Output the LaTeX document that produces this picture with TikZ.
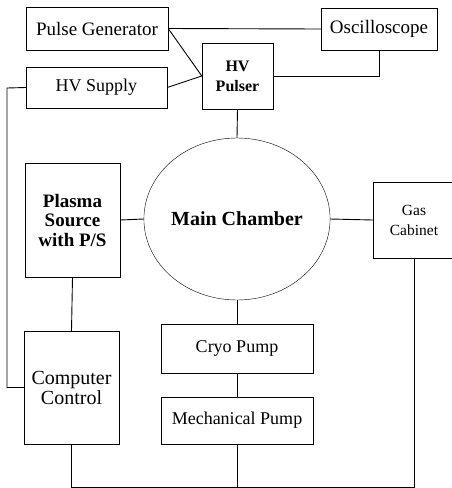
\documentclass[tikz,border=0pt]{standalone}
\usepackage{fontspec}
\setmainfont{Liberation Serif}
\usetikzlibrary{shapes.geometric}

\begin{document}
\begin{tikzpicture}[
    x=1pt, y=-1pt,
    block/.style={rectangle, draw, align=center, inner sep=0pt, font=\fontsize{18}{20}\selectfont},
    chamber/.style={ellipse, draw, inner sep=0pt, font=\fontsize{20}{20}\selectfont\bfseries},
    line/.style={draw, line width=0.9pt}
]
\useasboundingbox (0,0) rectangle (452,488);

\node [block, minimum width=142pt, minimum height=43pt, font=\fontsize{19}{20}\selectfont] (pulsegen) at (97,28.5) {Pulse Generator};
\node [block, minimum width=116pt, minimum height=42pt, font=\fontsize{19}{20}\selectfont] (osc) at (379,29) {Oscilloscope};
\node [block, minimum width=71pt, minimum height=66pt, font=\fontsize{16}{20}\selectfont\bfseries] (pulser) at (237.5,76) {HV\\Pulser};
\node [block, minimum width=141pt, minimum height=41pt] (hvsupply) at (96.5,87.5) {HV Supply};
\node [block, minimum width=95pt, minimum height=114pt, font=\fontsize{19}{19.5}\selectfont\bfseries] (plasma) at (72.5,220) {Plasma\\Source\\with P/S};
\node [chamber, minimum width=178pt, minimum height=162pt] (main) at (237,219) {Main Chamber};
\node [block, minimum width=82pt, minimum height=76pt, font=\fontsize{15.5}{20}\selectfont] (gas) at (414,220) {Gas\\Cabinet};
\node [block, minimum width=152pt, minimum height=49pt] (cryo) at (237,348.5) {Cryo Pump};
\node [block, minimum width=152pt, minimum height=47pt] (mech) at (237,420.5) {Mechanical Pump};
\node [block, minimum width=95pt, minimum height=113pt, font=\fontsize{20}{20}\selectfont] (computer) at (71.5,387.5) {Computer\\Control};

\coordinate (leftbus) at (7,88);
\coordinate (bottombus) at (0,487);

\path [line] (pulsegen.east) -- (osc.west);
\path [line] (pulsegen.east) -- (pulser.west);
\path [line] (hvsupply.east) -- (pulser.west);
\path [line] (osc.south) |- (pulser.east);
\path [line] (pulser.south) -- (main.north);
\path [line] (hvsupply.west) -- (leftbus) |- (computer.west);
\path [line] (plasma.east) -- (main.west);
\path [line] (main.east) -- (gas.west);
\path [line] (plasma.south) -- (computer.north);
\path [line] (main.south) -- (cryo.north);
\path [line] (cryo.south) -- (mech.north);
\path [line] (computer.south) -- (computer.south |- bottombus) -| (gas.south);
\path [line] (mech.south) -- (mech.south |- bottombus);

\end{tikzpicture}
\end{document}
